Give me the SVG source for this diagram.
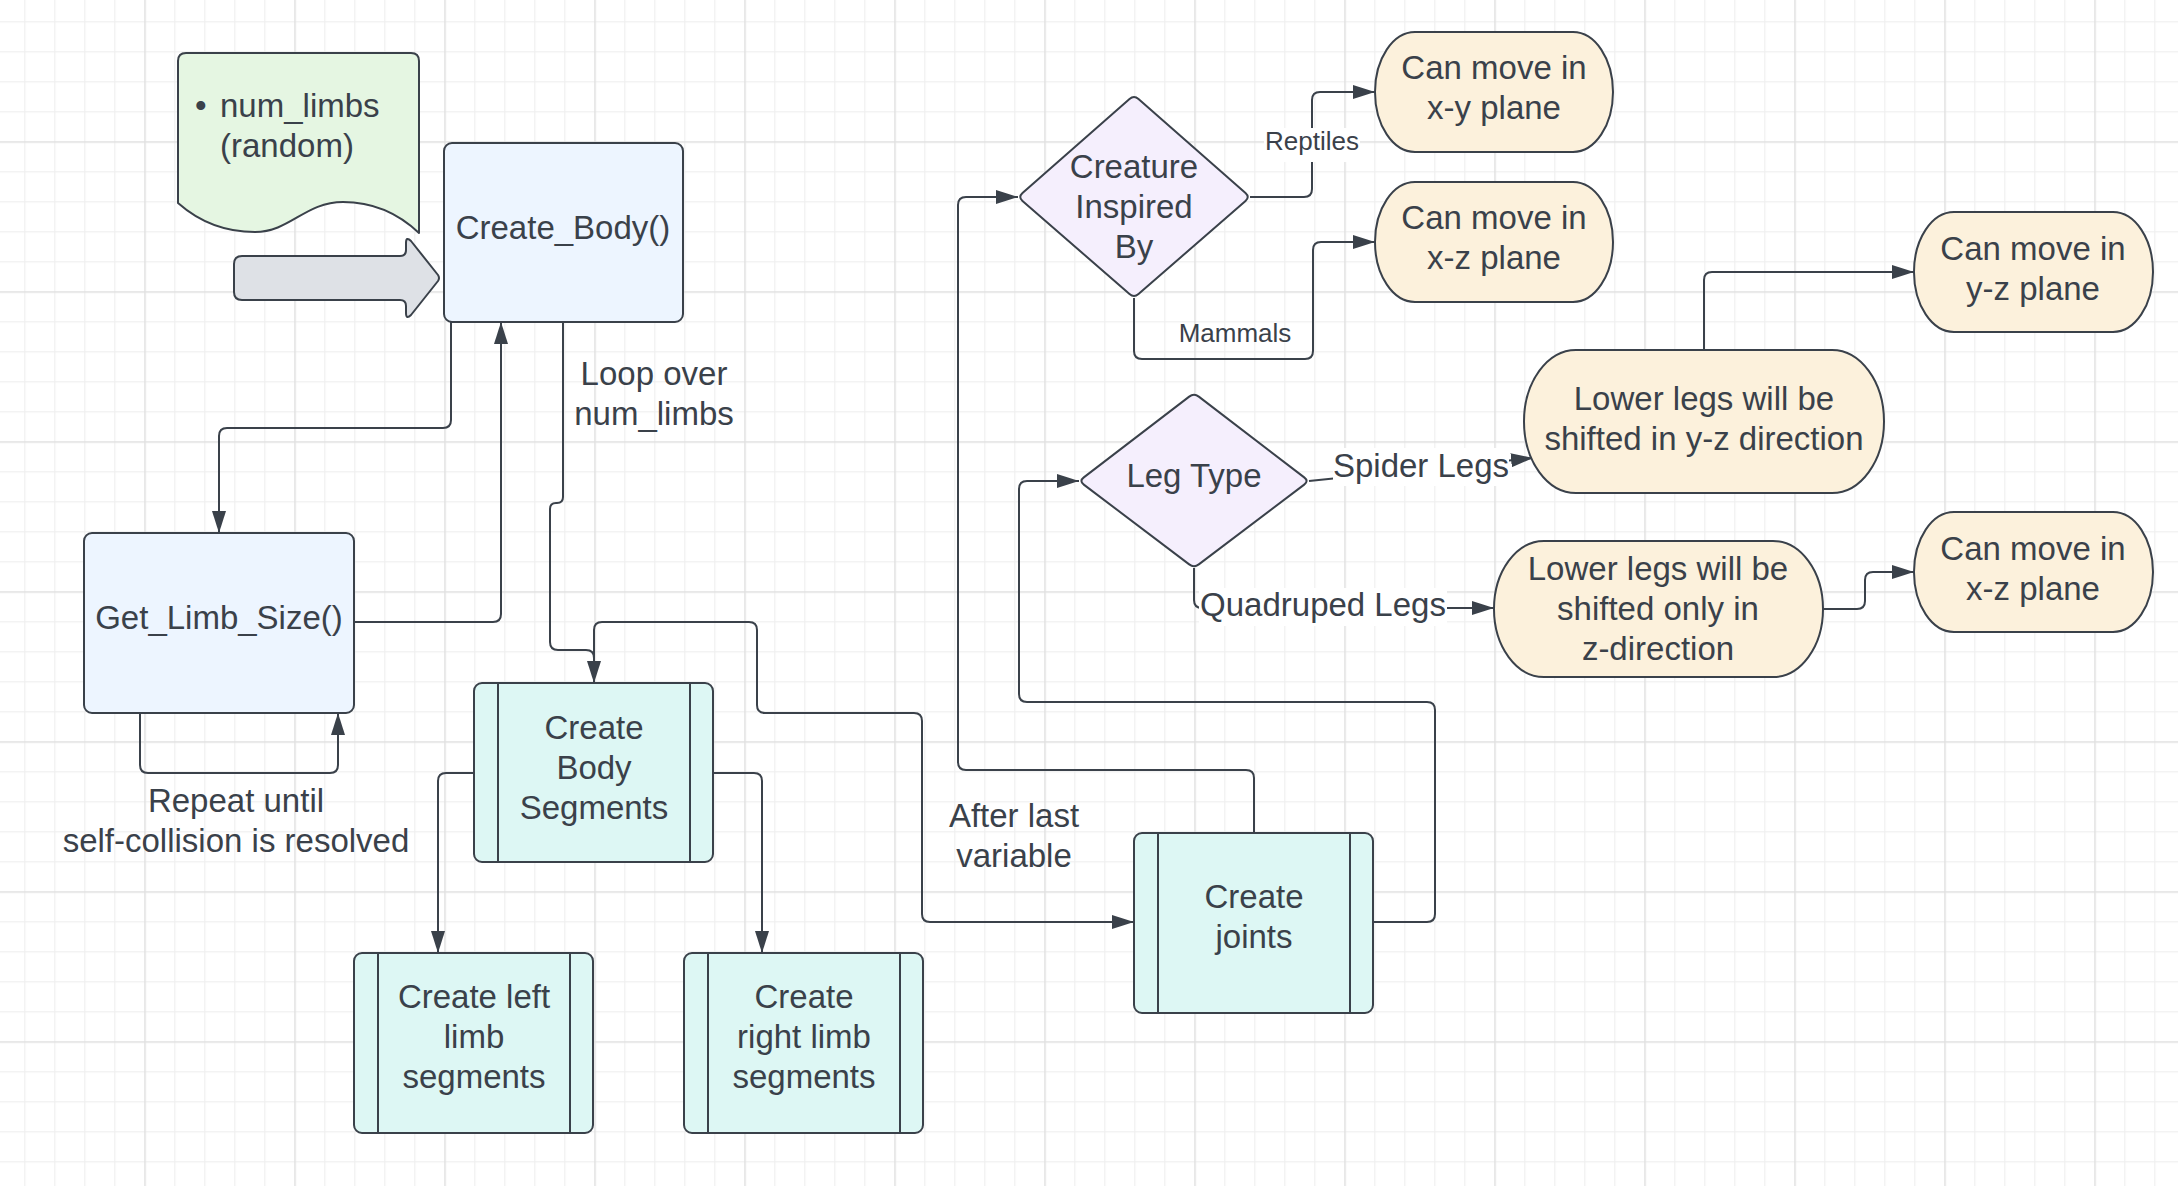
<svg xmlns="http://www.w3.org/2000/svg" width="2178" height="1186" viewBox="0 0 2178 1186">
<style>
.t{font-family:"Liberation Sans",Arial,sans-serif;font-size:33px;fill:#3a414a;text-anchor:middle}
.s{font-size:26px}
.st{text-anchor:start}
.n{stroke:#3a414a;stroke-width:2;stroke-linejoin:round}
.blue{fill:#edf5ff}
.teal{fill:#ddf7f4}
.purp{fill:#f5effd}
.cream{fill:#fcf1dc}
.c{fill:none;stroke:#3a414a;stroke-width:2;stroke-linejoin:round}
.bg{fill:#ffffff}
</style>
<defs>
<pattern id="grid" patternUnits="userSpaceOnUse" x="144.25" y="141.25" width="150" height="150">
<rect x="30" y="0" width="1.2" height="150" fill="#efefef"/>
<rect x="60" y="0" width="1.2" height="150" fill="#efefef"/>
<rect x="90" y="0" width="1.2" height="150" fill="#efefef"/>
<rect x="120" y="0" width="1.2" height="150" fill="#efefef"/>
<rect x="0" y="30" width="150" height="1.2" fill="#efefef"/>
<rect x="0" y="60" width="150" height="1.2" fill="#efefef"/>
<rect x="0" y="90" width="150" height="1.2" fill="#efefef"/>
<rect x="0" y="120" width="150" height="1.2" fill="#efefef"/>
<rect x="0" y="0" width="1.5" height="150" fill="#e0e0e0"/>
<rect x="0" y="0" width="150" height="1.5" fill="#e0e0e0"/>
</pattern>
<marker id="arr" markerUnits="userSpaceOnUse" markerWidth="22" markerHeight="14" refX="22" refY="7" orient="auto">
<path d="M0,0 L22,7 L0,14 Z" fill="#3a414a"/>
</marker>
</defs>
<rect width="2178" height="1186" fill="#ffffff"/>
<rect width="2178" height="1186" fill="url(#grid)"/>

<g id="connectors">
<path class="c" marker-end="url(#arr)" d="M451,322 V420 Q451,428 443,428 H227 Q219,428 219,436 V533"/>
<path class="c" marker-end="url(#arr)" d="M354,622 H493 Q501,622 501,614 V322"/>
<path class="c" marker-end="url(#arr)" d="M140,713 V765 Q140,773 148,773 H330 Q338,773 338,765 V713"/>
<path class="c" marker-end="url(#arr)" d="M563,322 V497 Q563,503 557,503 H556 Q550,503 550,509 V642 Q550,650 558,650 H586 Q594,650 594,658 V683"/>
<path class="c" marker-end="url(#arr)" d="M594,683 V630 Q594,622 602,622 H749 Q757,622 757,630 V705 Q757,713 765,713 H914 Q922,713 922,721 V914 Q922,922 930,922 H1134"/>
<path class="c" marker-end="url(#arr)" d="M474,773 H446 Q438,773 438,781 V953"/>
<path class="c" marker-end="url(#arr)" d="M713,773 H754 Q762,773 762,781 V953"/>
<path class="c" marker-end="url(#arr)" d="M1254,833 V778 Q1254,770 1246,770 H966 Q958,770 958,762 V205 Q958,197 966,197 H1018"/>
<path class="c" marker-end="url(#arr)" d="M1373,922 H1427 Q1435,922 1435,914 V710 Q1435,702 1427,702 H1027 Q1019,702 1019,694 V489 Q1019,481 1027,481 H1079"/>
<path class="c" marker-end="url(#arr)" d="M1250,197 H1304 Q1312,197 1312,189 V100 Q1312,92 1320,92 H1375"/>
<path class="c" marker-end="url(#arr)" d="M1134,298 V351 Q1134,359 1142,359 H1305 Q1313,359 1313,351 V250 Q1313,242 1321,242 H1375"/>
<path class="c" marker-end="url(#arr)" d="M1309,481 L1533,458"/>
<path class="c" marker-end="url(#arr)" d="M1194,568 V600 Q1194,608 1202,608 H1494"/>
<path class="c" marker-end="url(#arr)" d="M1704,350 V280 Q1704,272 1712,272 H1914"/>
<path class="c" marker-end="url(#arr)" d="M1823,609 H1857 Q1865,609 1865,601 V580 Q1865,572 1873,572 H1914"/>
<text class="t" x="654" y="385">Loop over</text>
<text class="t" x="654" y="425">num_limbs</text>
<text class="t" x="236" y="812">Repeat until</text>
<text class="t" x="236" y="852">self-collision is resolved</text>
<text class="t" x="1014" y="827">After last</text>
<text class="t" x="1014" y="867">variable</text>
<rect class="bg" x="1264" y="128" width="96" height="34"/>
<text class="t s" x="1312" y="150">Reptiles</text>
<text class="t s" x="1235" y="342">Mammals</text>
<rect class="bg" x="1333" y="448" width="176" height="38"/>
<text class="t" x="1421" y="477">Spider Legs</text>
<rect class="bg" x="1199" y="588" width="248" height="38"/>
<text class="t" x="1323" y="616">Quadruped Legs</text>
</g>

<g id="note">
<path class="n" fill="#e5f6e2" d="M186,53 H411 Q419,53 419,61 V233 C400,215 375,202 343,202 C305,202 290,232 255,232 C220,232 195,218 178,203 V61 Q178,53 186,53 Z"/>
<text class="t st" x="195" y="117">•</text>
<text class="t st" x="220" y="117">num_limbs</text>
<text class="t st" x="220" y="157">(random)</text>
</g>

<g id="start-arrow">
<path class="n" fill="#dee1e6" d="M242,256 H400 Q406,256 406,250 V243 Q406,236 411,241 L438,275 Q440,278 438,281 L411,315 Q406,320 406,313 V306 Q406,300 400,300 H242 Q234,300 234,292 V264 Q234,256 242,256 Z"/>
</g>

<g id="create-body">
<rect class="n blue" x="444" y="143" width="239" height="179" rx="8"/>
<text class="t" x="563" y="239">Create_Body()</text>
</g>

<g id="get-limb-size">
<rect class="n blue" x="84" y="533" width="270" height="180" rx="8"/>
<text class="t" x="219" y="629">Get_Limb_Size()</text>
</g>

<g id="create-body-segments">
<rect class="n teal" x="474" y="683" width="239" height="179" rx="8"/>
<line class="n" x1="498" y1="683" x2="498" y2="862"/>
<line class="n" x1="690" y1="683" x2="690" y2="862"/>
<text class="t" x="594" y="739">Create</text>
<text class="t" x="594" y="779">Body</text>
<text class="t" x="594" y="819">Segments</text>
</g>

<g id="create-left-limb">
<rect class="n teal" x="354" y="953" width="239" height="180" rx="8"/>
<line class="n" x1="378" y1="953" x2="378" y2="1133"/>
<line class="n" x1="570" y1="953" x2="570" y2="1133"/>
<text class="t" x="474" y="1008">Create left</text>
<text class="t" x="474" y="1048">limb</text>
<text class="t" x="474" y="1088">segments</text>
</g>

<g id="create-right-limb">
<rect class="n teal" x="684" y="953" width="239" height="180" rx="8"/>
<line class="n" x1="708" y1="953" x2="708" y2="1133"/>
<line class="n" x1="900" y1="953" x2="900" y2="1133"/>
<text class="t" x="804" y="1008">Create</text>
<text class="t" x="804" y="1048">right limb</text>
<text class="t" x="804" y="1088">segments</text>
</g>

<g id="create-joints">
<rect class="n teal" x="1134" y="833" width="239" height="180" rx="8"/>
<line class="n" x1="1158" y1="833" x2="1158" y2="1013"/>
<line class="n" x1="1350" y1="833" x2="1350" y2="1013"/>
<text class="t" x="1254" y="908">Create</text>
<text class="t" x="1254" y="948">joints</text>
</g>

<g id="creature-inspired-by">
<path class="n purp" d="M1138.5,99 L1245.5,193 Q1250,197 1245.5,201 L1138.5,294 Q1134,298 1129.5,294 L1022.5,201 Q1018,197 1022.5,193 L1129.5,99 Q1134,95 1138.5,99 Z"/>
<text class="t" x="1134" y="178">Creature</text>
<text class="t" x="1134" y="218">Inspired</text>
<text class="t" x="1134" y="258">By</text>
</g>

<g id="move-xy">
<rect class="n cream" x="1375" y="32" width="238" height="120" rx="40" ry="60"/>
<text class="t" x="1494" y="79">Can move in</text>
<text class="t" x="1494" y="119">x-y plane</text>
</g>

<g id="move-xz-top">
<rect class="n cream" x="1375" y="182" width="238" height="120" rx="40" ry="60"/>
<text class="t" x="1494" y="229">Can move in</text>
<text class="t" x="1494" y="269">x-z plane</text>
</g>

<g id="leg-type">
<path class="n purp" d="M1198.8,396.6 L1304.2,477.4 Q1309,481 1304.2,484.6 L1198.8,564.4 Q1194,568 1189.2,564.4 L1083.8,484.6 Q1079,481 1083.8,477.4 L1189.2,396.6 Q1194,393 1198.8,396.6 Z"/>
<text class="t" x="1194" y="487">Leg Type</text>
</g>

<g id="lower-legs-yz">
<rect class="n cream" x="1524" y="350" width="360" height="143" rx="52" ry="71.5"/>
<text class="t" x="1704" y="410">Lower legs will be</text>
<text class="t" x="1704" y="450">shifted in y-z direction</text>
</g>

<g id="lower-legs-z">
<rect class="n cream" x="1494" y="541" width="329" height="136" rx="50" ry="68"/>
<text class="t" x="1658" y="580">Lower legs will be</text>
<text class="t" x="1658" y="620">shifted only in</text>
<text class="t" x="1658" y="660">z-direction</text>
</g>

<g id="move-yz">
<rect class="n cream" x="1914" y="212" width="239" height="120" rx="40" ry="60"/>
<text class="t" x="2033" y="260">Can move in</text>
<text class="t" x="2033" y="300">y-z plane</text>
</g>

<g id="move-xz-bottom">
<rect class="n cream" x="1914" y="512" width="239" height="120" rx="40" ry="60"/>
<text class="t" x="2033" y="560">Can move in</text>
<text class="t" x="2033" y="600">x-z plane</text>
</g>
</svg>
